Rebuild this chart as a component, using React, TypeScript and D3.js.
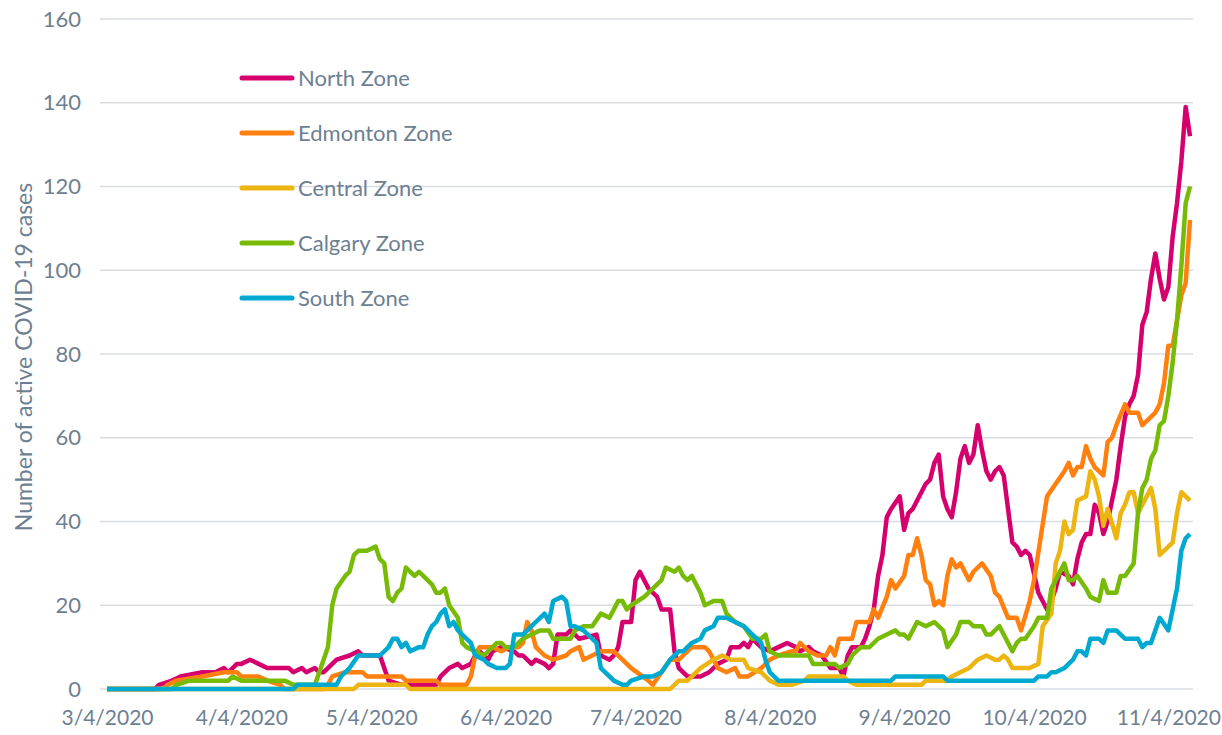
import { useEffect, useRef } from 'react';
import * as d3 from 'd3';

// days counted from 3/4/2020
const startDate = new Date(Date.UTC(2020, 2, 4));
const lastDay = 250;

const xTickLabels = ['3/4/2020', '4/4/2020', '5/4/2020', '6/4/2020', '7/4/2020', '8/4/2020', '9/4/2020', '10/4/2020', '11/4/2020'];
const yTicks = [0, 20, 40, 60, 80, 100, 120, 140, 160];

const seriesNames = ['North Zone', 'Edmonton Zone', 'Central Zone', 'Calgary Zone', 'South Zone'];
const seriesColors = ['#d5006e', '#ff7f0f', '#edb511', '#78bb07', '#00a9cf'];

const northZone: [number, number][] = [
  [0, 0], [11, 0], [12, 1], [15, 2], [17, 3], [22, 4], [25, 4], [27, 5], [28, 4], [30, 6], [31, 6], [33, 7], [35, 6], [37, 5],
  [42, 5], [43, 4], [45, 5], [46, 4], [48, 5], [49, 4], [50, 4], [51, 5], [53, 7], [56, 8], [58, 9], [59, 8], [63, 8], [64, 5],
  [65, 2], [68, 1], [76, 1], [77, 3], [79, 5], [81, 6], [82, 5], [84, 6], [85, 8], [86, 9], [88, 7], [89, 9], [91, 10], [94, 9],
  [95, 8], [96, 8], [98, 6], [99, 7], [101, 6], [102, 5], [103, 6], [104, 13], [106, 13], [107, 14], [109, 12], [113, 13],
  [114, 8], [116, 7], [117, 8], [118, 10], [119, 16], [121, 16], [122, 26], [123, 28], [125, 24], [127, 22], [128, 19],
  [130, 19], [131, 9], [132, 5], [134, 3], [137, 3], [139, 4], [141, 6], [143, 7], [144, 10], [146, 10], [147, 11], [148, 10],
  [149, 12], [151, 10], [153, 9], [155, 10], [157, 11], [159, 10], [160, 9], [162, 10], [163, 9], [165, 8], [167, 5], [169, 5],
  [170, 3], [171, 8], [172, 10], [174, 10], [175, 12], [176, 15], [177, 19], [178, 27], [179, 32], [180, 41], [181, 43],
  [183, 46], [184, 38], [185, 42], [186, 43], [188, 47], [189, 49], [190, 50], [191, 54], [192, 56], [193, 46], [194, 43],
  [195, 41], [196, 47], [197, 55], [198, 58], [199, 54], [200, 56], [201, 63], [202, 57], [203, 52], [204, 50], [205, 52],
  [206, 53], [207, 51], [208, 43], [209, 35], [210, 34], [211, 32], [212, 33], [213, 32], [215, 23], [217, 19], [218, 21],
  [219, 24], [220, 28], [222, 27], [223, 25], [224, 31], [225, 35], [226, 37], [227, 37], [228, 44], [229, 42], [230, 37],
  [231, 40], [232, 45], [233, 50], [234, 58], [235, 65], [236, 68], [237, 70], [238, 75], [239, 87], [240, 90], [241, 98],
  [242, 104], [243, 98], [244, 93], [245, 96], [246, 108], [247, 116], [248, 126], [249, 139], [250, 132]
];

const edmontonZone: [number, number][] = [
  [0, 0], [13, 0], [14, 1], [16, 2], [22, 3], [27, 4], [30, 4], [31, 3], [35, 3], [37, 2], [40, 1], [41, 0], [50, 0], [51, 1],
  [52, 3], [55, 4], [59, 4], [60, 3], [68, 3], [69, 2], [76, 2], [77, 1], [83, 1], [84, 3], [85, 8], [86, 10], [89, 10],
  [91, 9], [93, 10], [95, 10], [96, 11], [97, 16], [98, 14], [99, 10], [101, 8], [103, 7], [106, 8], [107, 9], [109, 10],
  [110, 7], [112, 8], [114, 9], [117, 9], [119, 7], [121, 5], [125, 2], [126, 1], [128, 4], [130, 7], [132, 7], [133, 8],
  [135, 10], [138, 10], [139, 9], [141, 5], [143, 4], [145, 5], [146, 3], [148, 3], [151, 5], [153, 7], [155, 8], [158, 9],
  [159, 9], [160, 11], [162, 9], [164, 8], [166, 8], [167, 10], [168, 8], [169, 12], [172, 12], [173, 16], [176, 16],
  [177, 19], [178, 17], [180, 22], [181, 26], [182, 24], [184, 27], [185, 32], [186, 32], [187, 36], [188, 32], [189, 26],
  [190, 25], [191, 20], [192, 21], [193, 20], [194, 27], [195, 31], [196, 29], [197, 30], [199, 26], [200, 28], [202, 30],
  [204, 27], [205, 23], [206, 22], [208, 17], [210, 17], [211, 14], [213, 21], [214, 26], [217, 46], [219, 49], [221, 52],
  [222, 54], [223, 51], [224, 53], [225, 53], [226, 58], [227, 55], [228, 53], [230, 51], [231, 59], [232, 60], [233, 63],
  [235, 68], [236, 66], [238, 66], [239, 63], [240, 64], [241, 65], [242, 66], [243, 68], [244, 73], [245, 82], [246, 82],
  [247, 88], [248, 94], [249, 97], [250, 112]
];

const centralZone: [number, number][] = [
  [0, 0], [57, 0], [58, 1], [69, 1], [70, 0], [130, 0], [132, 2], [134, 2], [137, 5], [140, 7], [142, 8], [144, 7], [147, 7],
  [148, 5], [151, 4], [153, 2], [155, 1], [158, 1], [161, 2], [162, 3], [170, 3], [171, 2], [173, 1], [188, 1], [189, 2],
  [194, 2], [195, 3], [197, 4], [199, 5], [201, 7], [203, 8], [205, 7], [206, 7], [207, 8], [208, 7], [209, 5], [213, 5],
  [215, 6], [216, 15], [218, 18], [219, 30], [220, 33], [221, 40], [222, 37], [223, 38], [224, 45], [226, 46], [227, 52],
  [228, 50], [229, 46], [230, 39], [231, 43], [233, 36], [234, 42], [235, 44], [236, 47], [237, 47], [238, 42], [239, 44],
  [240, 46], [241, 48], [242, 43], [243, 32], [245, 34], [246, 35], [247, 42], [248, 47], [250, 45]
];

const calgaryZone: [number, number][] = [
  [0, 0], [15, 0], [16, 1], [19, 2], [28, 2], [29, 3], [31, 2], [41, 2], [43, 1], [48, 1], [49, 4], [51, 10], [52, 20],
  [53, 24], [55, 27], [56, 28], [57, 32], [58, 33], [60, 33], [62, 34], [63, 31], [64, 30], [65, 22], [66, 21], [67, 23],
  [68, 24], [69, 29], [71, 27], [72, 28], [73, 27], [75, 25], [76, 23], [77, 23], [78, 24], [79, 20], [81, 17], [82, 11],
  [83, 10], [85, 9], [87, 8], [89, 10], [90, 11], [91, 11], [92, 10], [94, 10], [95, 11], [96, 12], [98, 13], [100, 14],
  [102, 14], [103, 12], [105, 12], [107, 12], [108, 14], [110, 15], [112, 15], [114, 18], [116, 17], [118, 21], [119, 21],
  [120, 19], [121, 20], [124, 22], [126, 24], [128, 26], [129, 29], [131, 28], [132, 29], [133, 27], [134, 26], [135, 27],
  [137, 23], [138, 20], [140, 21], [142, 21], [143, 18], [145, 16], [147, 15], [149, 12], [151, 12], [152, 13], [153, 9],
  [155, 8], [157, 8], [162, 8], [163, 6], [168, 6], [169, 5], [171, 6], [172, 8], [174, 10], [176, 10], [178, 12], [180, 13],
  [182, 14], [183, 13], [184, 13], [185, 12], [187, 16], [189, 15], [191, 16], [193, 14], [194, 10], [196, 13], [197, 16],
  [199, 16], [200, 15], [202, 15], [203, 13], [204, 13], [206, 15], [207, 13], [209, 9], [210, 11], [211, 12], [212, 12],
  [214, 15], [215, 17], [217, 17], [218, 24], [219, 26], [221, 30], [222, 26], [223, 26], [224, 27], [226, 24], [227, 22],
  [229, 21], [230, 26], [231, 23], [233, 23], [234, 27], [235, 27], [237, 30], [238, 42], [239, 48], [240, 50], [241, 55],
  [242, 57], [243, 63], [244, 64], [245, 70], [246, 78], [247, 88], [248, 101], [249, 116], [250, 120]
];

const southZone: [number, number][] = [
  [0, 0], [43, 0], [44, 1], [53, 1], [54, 3], [56, 5], [58, 8], [63, 8], [65, 10], [66, 12], [67, 12], [68, 10], [69, 11],
  [70, 9], [72, 10], [73, 10], [74, 13], [75, 15], [76, 16], [77, 18], [78, 19], [79, 15], [80, 16], [81, 14], [83, 12],
  [84, 11], [85, 8], [87, 7], [88, 6], [90, 5], [92, 5], [93, 6], [94, 13], [96, 13], [98, 15], [99, 16], [101, 18], [102, 16],
  [103, 21], [105, 22], [106, 21], [107, 15], [108, 15], [110, 14], [112, 12], [113, 11], [114, 5], [117, 2], [119, 1],
  [120, 1], [121, 2], [124, 3], [126, 3], [128, 4], [130, 7], [132, 9], [133, 9], [135, 11], [137, 12], [138, 14], [140, 15],
  [141, 17], [143, 17], [145, 16], [147, 15], [149, 13], [151, 11], [152, 7], [153, 4], [155, 2], [181, 2], [182, 3],
  [193, 3], [194, 2], [214, 2], [215, 3], [217, 3], [218, 4], [219, 4], [221, 5], [223, 7], [224, 9], [225, 9], [226, 8],
  [227, 12], [229, 12], [230, 11], [231, 14], [233, 14], [234, 13], [235, 12], [238, 12], [239, 10], [240, 11], [241, 11],
  [243, 17], [245, 14], [246, 19], [247, 24], [248, 33], [249, 36], [250, 37]
];

const allSeries = [northZone, edmontonZone, centralZone, calgaryZone, southZone];

const WIDTH = 1222;
const HEIGHT = 735;
const FONT = 'Lato, "Open Sans", sans-serif';
const TEXT_COLOR = '#6d8092';

const App = () => {
  const svgRef = useRef<SVGSVGElement | null>(null);

  useEffect(() => {
    const svg = d3.select(svgRef.current);
    svg.selectAll('*').remove();

    const plot = { left: 100, right: 1193, top: 19, bottom: 689 };

    const x = d3.scaleUtc()
      .domain([startDate, d3.utcDay.offset(startDate, lastDay)])
      .range([107, 1190]);

    const y = d3.scaleLinear()
      .domain([0, 160])
      .range([plot.bottom, plot.top]);

    // gridlines
    svg.append('g')
      .selectAll('line')
      .data(yTicks)
      .join('line')
      .attr('x1', plot.left)
      .attr('x2', plot.right)
      .attr('y1', d => y(d))
      .attr('y2', d => y(d))
      .attr('stroke', '#d9dde2')
      .attr('stroke-width', 1.5);

    // y axis labels
    const yAxis = svg.append('g')
      .attr('transform', `translate(81,0)`)
      .call(d3.axisLeft(y).tickValues(yTicks).tickSize(0).tickPadding(0));
    yAxis.select('.domain').remove();
    yAxis.selectAll('text')
      .attr('fill', TEXT_COLOR)
      .style('font-family', FONT)
      .style('font-size', '22px');

    // x axis labels
    const parseLabel = d3.utcParse('%m/%d/%Y');
    const xAxis = svg.append('g')
      .attr('transform', `translate(0,${plot.bottom})`)
      .call(d3.axisBottom(x)
        .tickValues(xTickLabels.map(s => parseLabel(s) as Date))
        .tickFormat((d, i) => xTickLabels[i])
        .tickSize(0)
        .tickPadding(21));
    xAxis.select('.domain').remove();
    xAxis.selectAll('text')
      .attr('fill', TEXT_COLOR)
      .style('font-family', FONT)
      .style('font-size', '21px');

    // y axis title
    svg.append('text')
      .attr('transform', 'rotate(-90)')
      .attr('x', -357)
      .attr('y', 32)
      .attr('text-anchor', 'middle')
      .attr('fill', TEXT_COLOR)
      .style('font-family', FONT)
      .style('font-size', '23px')
      .text('Number of active COVID-19 cases');

    // lines
    const line = d3.line<[number, number]>()
      .x(d => x(d3.utcDay.offset(startDate, d[0])))
      .y(d => y(d[1]));

    svg.append('g')
      .selectAll('path')
      .data(allSeries)
      .join('path')
      .attr('d', d => line(d))
      .attr('fill', 'none')
      .attr('stroke', (d, i) => seriesColors[i])
      .attr('stroke-width', 4.5)
      .attr('stroke-linejoin', 'round');

    // legend
    const legend = svg.append('g')
      .selectAll('g')
      .data(seriesNames)
      .join('g')
      .attr('transform', (d, i) => `translate(0,${78 + i * 55})`);

    legend.append('line')
      .attr('x1', 242)
      .attr('x2', 292)
      .attr('stroke', (d, i) => seriesColors[i])
      .attr('stroke-width', 5)
      .attr('stroke-linecap', 'round');

    legend.append('text')
      .attr('x', 298)
      .attr('dy', '0.35em')
      .attr('fill', TEXT_COLOR)
      .style('font-family', FONT)
      .style('font-size', '22px')
      .text(d => d);
  }, []);

  return (
    <svg
      ref={svgRef}
      width={WIDTH}
      height={HEIGHT}
      style={{ position: 'absolute', left: 0, top: 0, background: '#fff' }}
    />
  );
};

export default App;
